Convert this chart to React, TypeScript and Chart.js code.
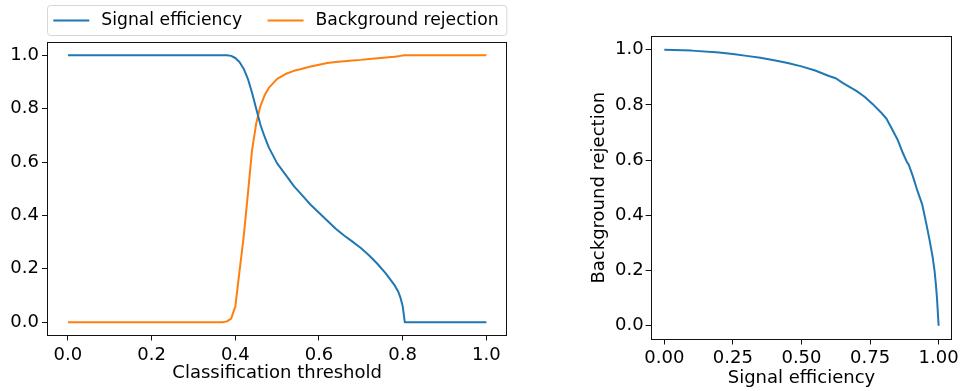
import React, { useEffect, useRef } from 'react';
import { Chart, registerables } from 'chart.js';

Chart.register(...registerables);

// ---------- data ----------
const thresholds = [
  0, 0.1, 0.2, 0.3, 0.37, 0.38, 0.39, 0.4, 0.41, 0.42, 0.43, 0.44, 0.45, 0.46, 0.47, 0.48,
  0.5, 0.52, 0.54, 0.56, 0.58, 0.6, 0.62, 0.64, 0.66, 0.68, 0.7, 0.72, 0.74, 0.76, 0.78,
  0.79, 0.795, 0.8, 0.805, 0.81, 0.85, 0.9, 1.0,
];
const signalEfficiency = [
  1, 1, 1, 1, 1, 1, 0.998, 0.99, 0.975, 0.95, 0.912, 0.86, 0.8, 0.74, 0.695, 0.655,
  0.595, 0.553, 0.51, 0.475, 0.44, 0.41, 0.38, 0.35, 0.325, 0.302, 0.278, 0.25, 0.218, 0.182, 0.14,
  0.112, 0.09, 0.06, 0.0, 0, 0, 0, 0,
];
const backgroundRejection = [
  0, 0, 0, 0, 0, 0.003, 0.013, 0.058, 0.19, 0.32, 0.48, 0.645, 0.745, 0.81, 0.85, 0.878,
  0.912, 0.93, 0.942, 0.95, 0.958, 0.965, 0.971, 0.975, 0.978, 0.981, 0.983, 0.986, 0.989, 0.992, 0.995,
  0.997, 0.998, 0.999, 1.0, 1.0, 1.0, 1.0, 1.0,
];

const rocSignalEfficiency = [
  0.0, 0.1, 0.2, 0.25, 0.3, 0.35, 0.4, 0.45, 0.5, 0.55, 0.6, 0.625, 0.65, 0.7, 0.73, 0.76,
  0.79, 0.81, 0.83, 0.85, 0.87, 0.885, 0.89, 0.905, 0.92, 0.94, 0.955, 0.967, 0.978, 0.985,
  0.99, 0.994, 0.997, 1.0,
];
const rocBackgroundRejection = [
  1.0, 0.997, 0.99, 0.985, 0.978, 0.971, 0.962, 0.952, 0.94, 0.925, 0.905, 0.897, 0.88, 0.851, 0.83, 0.803,
  0.773, 0.75, 0.713, 0.675, 0.625, 0.592, 0.586, 0.545, 0.497, 0.44, 0.37, 0.31, 0.25, 0.2,
  0.15, 0.1, 0.05, 0.0,
];

const leftXTicks = [0, 0.2, 0.4, 0.6, 0.8, 1.0];
const leftYTicks = [0, 0.2, 0.4, 0.6, 0.8, 1.0];
const rightXTicks = [0, 0.25, 0.5, 0.75, 1.0];
const rightYTicks = [0, 0.2, 0.4, 0.6, 0.8, 1.0];

const seriesNames = ['Signal efficiency', 'Background rejection'];
const seriesColors = ['#1f77b4', '#ff7f0e'];
const leftXTitle = 'Classification threshold';
const rightXTitle = 'Signal efficiency';
const rightYTitle = 'Background rejection';

// ---------- helpers ----------
const FONT = 'DejaVu Sans';
const TICK_FONT = { family: FONT, size: 18 };
const TEXT = '#000';

const framePlugin = {
  id: 'frame',
  afterDatasetsDraw(chart: any) {
    const { ctx, chartArea } = chart;
    const l = Math.round(chartArea.left) + 0.5;
    const t = Math.round(chartArea.top) + 0.5;
    const r = Math.round(chartArea.right) - 0.5;
    const b = Math.round(chartArea.bottom) - 0.5;
    ctx.save();
    ctx.strokeStyle = '#111';
    ctx.lineWidth = 1;
    ctx.strokeRect(l, t, r - l, b - t);
    ctx.restore();
  },
};

const legendPlugin = {
  id: 'mplLegend',
  afterDraw(chart: any) {
    const { ctx, chartArea } = chart;
    const top = 5.5;
    const bottom = 35.5;
    const left = chartArea.left + 0.5;
    const right = chartArea.right - 0.5;
    const rad = 3;
    ctx.save();
    ctx.beginPath();
    ctx.moveTo(left + rad, top);
    ctx.lineTo(right - rad, top);
    ctx.arcTo(right, top, right, top + rad, rad);
    ctx.lineTo(right, bottom - rad);
    ctx.arcTo(right, bottom, right - rad, bottom, rad);
    ctx.lineTo(left + rad, bottom);
    ctx.arcTo(left, bottom, left, bottom - rad, rad);
    ctx.lineTo(left, top + rad);
    ctx.arcTo(left, top, left + rad, top, rad);
    ctx.closePath();
    ctx.fillStyle = 'rgba(255,255,255,0.8)';
    ctx.fill();
    ctx.strokeStyle = '#d6d6d6';
    ctx.lineWidth = 1;
    ctx.stroke();

    const midY = (top + bottom) / 2;
    ctx.font = `17.2px "${FONT}"`;
    ctx.textBaseline = 'middle';
    ctx.textAlign = 'left';
    let x = chartArea.left + 6.3;
    chart.data.datasets.forEach((ds: any) => {
      ctx.strokeStyle = ds.borderColor;
      ctx.lineWidth = 2;
      ctx.beginPath();
      ctx.moveTo(x, midY);
      ctx.lineTo(x + 36, midY);
      ctx.stroke();
      x += 36 + 12;
      ctx.fillStyle = TEXT;
      ctx.fillText(ds.label, x, midY + 0.5);
      x += ctx.measureText(ds.label).width + 25.5;
    });
    ctx.restore();
  },
};

function setTicks(values: number[]) {
  return (scale: any) => {
    scale.ticks = values.map((v) => ({ value: v }));
  };
}

function makeScale(opts: {
  ticks: number[];
  decimals: number;
  fitSize: number;
  horizontal: boolean;
  tickPadding: number;
  title?: string;
  titlePadding?: any;
}) {
  return {
    type: 'linear',
    min: -0.05,
    max: 1.05,
    afterBuildTicks: setTicks(opts.ticks),
    afterFit: (scale: any) => {
      if (opts.horizontal) scale.height = opts.fitSize;
      else scale.width = opts.fitSize;
    },
    ticks: {
      font: TICK_FONT,
      color: TEXT,
      padding: opts.tickPadding,
      maxRotation: 0,
      autoSkip: false,
      callback: (v: any) => Number(v).toFixed(opts.decimals),
    },
    grid: {
      display: true,
      drawOnChartArea: false,
      drawTicks: true,
      tickLength: 5,
      tickColor: '#111',
      tickWidth: 1,
    },
    border: { display: false },
    title: opts.title
      ? {
          display: true,
          text: opts.title,
          font: { family: FONT, size: 18 },
          color: TEXT,
          padding: opts.titlePadding,
        }
      : { display: false },
  };
}

export default function App() {
  const leftRef = useRef<HTMLCanvasElement>(null);
  const rightRef = useRef<HTMLCanvasElement>(null);

  useEffect(() => {
    const leftChart = new Chart(leftRef.current as HTMLCanvasElement, {
      type: 'line',
      data: {
        datasets: [
          {
            label: seriesNames[0],
            data: thresholds.map((t, i) => ({ x: t, y: signalEfficiency[i] })),
            borderColor: seriesColors[0],
            backgroundColor: seriesColors[0],
          },
          {
            label: seriesNames[1],
            data: thresholds.map((t, i) => ({ x: t, y: backgroundRejection[i] })),
            borderColor: seriesColors[1],
            backgroundColor: seriesColors[1],
          },
        ],
      },
      options: {
        responsive: false,
        animation: false,
        devicePixelRatio: 1,
        layout: { padding: { top: 42, right: 62.7, left: 0, bottom: 0 } },
        elements: {
          point: { radius: 0 },
          line: { borderWidth: 2, tension: 0, borderCapStyle: 'butt', borderJoinStyle: 'round' },
        },
        plugins: { legend: { display: false }, tooltip: { enabled: false } },
        scales: {
          x: makeScale({
            ticks: leftXTicks,
            decimals: 1,
            fitSize: 55.5,
            horizontal: true,
            tickPadding: 4,
            title: leftXTitle,
            titlePadding: { top: 0, bottom: 6.5 },
          }) as any,
          y: makeScale({
            ticks: leftYTicks,
            decimals: 1,
            fitSize: 47,
            horizontal: false,
            tickPadding: 3,
          }) as any,
        },
      },
      plugins: [framePlugin, legendPlugin],
    });

    const rightChart = new Chart(rightRef.current as HTMLCanvasElement, {
      type: 'line',
      data: {
        datasets: [
          {
            label: rightYTitle,
            data: rocSignalEfficiency.map((s, i) => ({ x: s, y: rocBackgroundRejection[i] })),
            borderColor: seriesColors[0],
            backgroundColor: seriesColors[0],
          },
        ],
      },
      options: {
        responsive: false,
        animation: false,
        devicePixelRatio: 1,
        layout: { padding: { top: 36, right: 7.2, left: 0, bottom: 0 } },
        elements: {
          point: { radius: 0 },
          line: { borderWidth: 2, tension: 0, borderCapStyle: 'butt', borderJoinStyle: 'round' },
        },
        plugins: { legend: { display: false }, tooltip: { enabled: false } },
        scales: {
          x: makeScale({
            ticks: rightXTicks,
            decimals: 2,
            fitSize: 51.5,
            horizontal: true,
            tickPadding: 3,
            title: rightXTitle,
            titlePadding: { top: 0, bottom: 2 },
          }) as any,
          y: makeScale({
            ticks: rightYTicks,
            decimals: 1,
            fitSize: 80.6,
            horizontal: false,
            tickPadding: 2,
            title: rightYTitle,
            titlePadding: { top: 19, bottom: 0 },
          }) as any,
        },
      },
      plugins: [framePlugin],
    });

    return () => {
      leftChart.destroy();
      rightChart.destroy();
    };
  }, []);

  return (
    <div style={{ position: 'fixed', left: 0, top: 0, width: 962, height: 391, background: '#fff' }}>
      <canvas
        ref={leftRef}
        width={570}
        height={391}
        style={{ position: 'absolute', left: 0, top: 0, width: 570, height: 391 }}
      />
      <canvas
        ref={rightRef}
        width={392}
        height={391}
        style={{ position: 'absolute', left: 570, top: 0, width: 392, height: 391 }}
      />
    </div>
  );
}
